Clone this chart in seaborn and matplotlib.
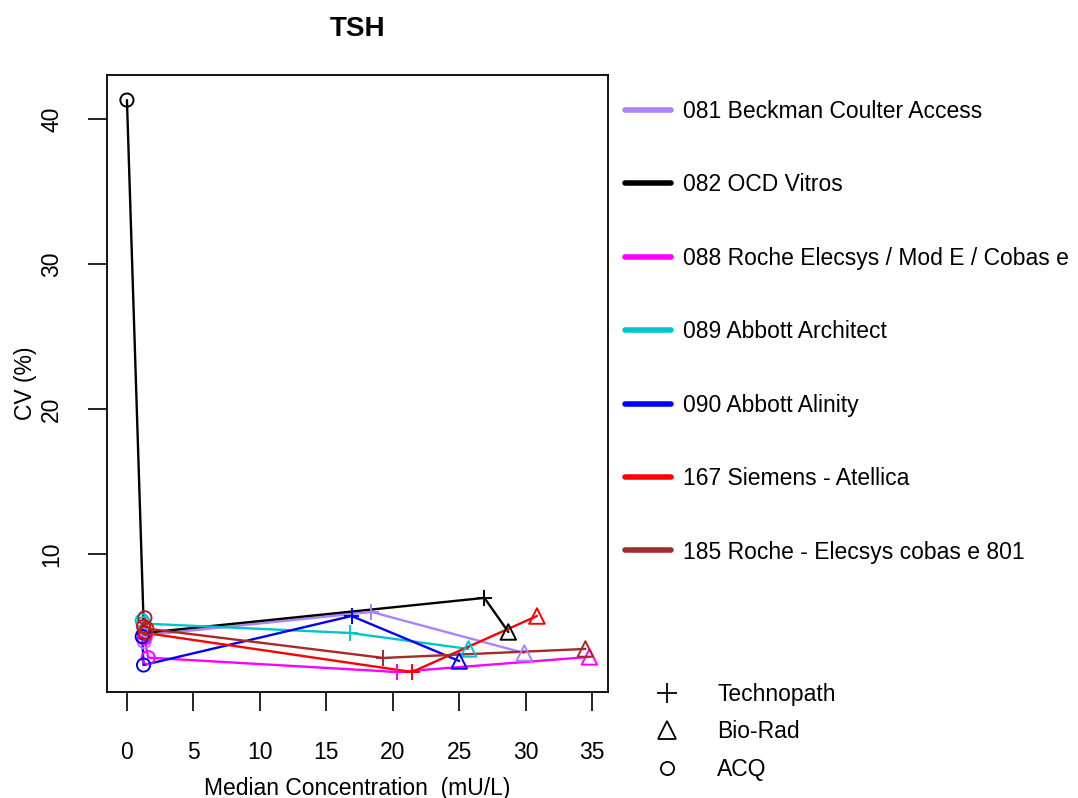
import pandas as pd
import seaborn as sns
import matplotlib.pyplot as plt
from matplotlib.lines import Line2D

# instruments and colours (legend order)
instruments = ["081 Beckman Coulter Access", "082 OCD Vitros",
               "088 Roche Elecsys / Mod E / Cobas e", "089 Abbott Architect",
               "090 Abbott Alinity", "167 Siemens - Atellica",
               "185 Roche - Elecsys cobas e 801"]
colors = ["#AB82FF", "#000000", "#FF00FF", "#00C5CD", "#0000FF", "#FF0000", "#A52A2A"]

# ACQ material (two levels per instrument)
acq_conc = [[1.30, 1.45], [0.0, 1.28], [1.30, 1.60], [1.15, 1.25],
            [1.15, 1.25], [1.25, 1.40], [1.35, 1.50]]
acq_cv = [[3.95, 4.40], [41.3, 4.55], [4.20, 2.85], [5.40, 5.20],
          [4.30, 2.34], [5.00, 4.55], [5.60, 4.85]]
# Technopath material
tech_conc = [18.4, 26.9, 20.3, 16.8, 16.9, 21.45, 19.3]
tech_cv = [6.00, 6.97, 1.86, 4.55, 5.72, 1.86, 2.83]
# Bio-Rad material
bio_conc = [29.9, 28.7, 34.8, 25.7, 25.0, 30.85, 34.5]
bio_cv = [3.17, 4.62, 2.90, 3.45, 2.62, 5.72, 3.45]

rows = []
for i, inst in enumerate(instruments):
    for c, v in zip(acq_conc[i], acq_cv[i]):
        rows.append((inst, "ACQ", c, v))
    rows.append((inst, "Technopath", tech_conc[i], tech_cv[i]))
    rows.append((inst, "Bio-Rad", bio_conc[i], bio_cv[i]))
df = pd.DataFrame(rows, columns=["inst", "mat", "conc", "cv"])

sns.set_theme(style="ticks")
plt.rcParams["font.family"] = ["Liberation Sans", "DejaVu Sans"]
plt.rcParams["text.color"] = "black"
plt.rcParams["axes.labelcolor"] = "black"
plt.rcParams["xtick.color"] = "black"
plt.rcParams["ytick.color"] = "black"
palette = dict(zip(instruments, colors))
fs = 16.5

fig = plt.figure(figsize=(10.78, 7.98), dpi=100)
ax = fig.add_axes([107 / 1078, 1 - 692 / 798, 501 / 1078, 617 / 798])

sns.lineplot(data=df, x="conc", y="cv", hue="inst", palette=palette, sort=True,
             estimator=None, legend=False, lw=1.7, ax=ax)

markers = {"Technopath": "+", "Bio-Rad": "^", "ACQ": "o"}
for mat, m in markers.items():
    sub = df[df["mat"] == mat]
    sns.scatterplot(data=sub, x="conc", y="cv", hue="inst", palette=palette,
                    marker=m, s=125 if m != "o" else 90, linewidth=1.4,
                    legend=False, ax=ax, zorder=3)
    coll = ax.collections[-1]
    fc = coll.get_facecolors()
    coll.set_edgecolors(fc)
    if m != "+":
        coll.set_facecolors("none")

ax.set_xlim(-1.5, 36.2)
ax.set_ylim(0.48, 43.03)
ax.set_xticks(range(0, 36, 5))
ax.set_yticks([10, 20, 30, 40])
ax.tick_params(axis="both", direction="out", length=13.5, width=1.2,
               labelsize=fs)
ax.tick_params(axis="x", pad=22)
ax.tick_params(axis="y", pad=18)
for lab in ax.get_yticklabels():
    lab.set_rotation(90)
    lab.set_va("center")
for sp in ax.spines.values():
    sp.set_linewidth(1.3)
    sp.set_color("black")

ax.set_xlabel("Median Concentration  (mU/L)", fontsize=fs, labelpad=9)
ax.set_ylabel("CV (%)", fontsize=fs, labelpad=2)
ax.set_title("TSH", fontsize=20, fontweight="bold", pad=28)

handles1 = [Line2D([], [], color=c, lw=4) for c in colors]
leg1 = ax.legend(handles1, instruments, loc="upper left",
                 bbox_to_anchor=(625 / 1078, 1 - 100 / 798),
                 bbox_transform=fig.transFigure, frameon=False, fontsize=fs,
                 handlelength=2.0, handletextpad=0.55, labelspacing=2.20,
                 borderpad=0, borderaxespad=0)
ax.add_artist(leg1)

handles2 = [Line2D([], [], color="black", marker="+", ls="none", ms=14, mew=1.3),
            Line2D([], [], color="black", marker="^", ls="none", ms=13, mfc="none", mew=1.3),
            Line2D([], [], color="black", marker="o", ls="none", ms=9.5, mfc="none", mew=1.3)]
ax.legend(handles2, ["Technopath", "Bio-Rad", "ACQ"], loc="upper left",
          bbox_to_anchor=(646 / 1078, 1 - 683 / 798),
          bbox_transform=fig.transFigure, frameon=False, fontsize=fs,
          handlelength=1.8, handletextpad=1.3, labelspacing=0.63,
          borderpad=0, borderaxespad=0)

fig.savefig("out.png", dpi=100)
